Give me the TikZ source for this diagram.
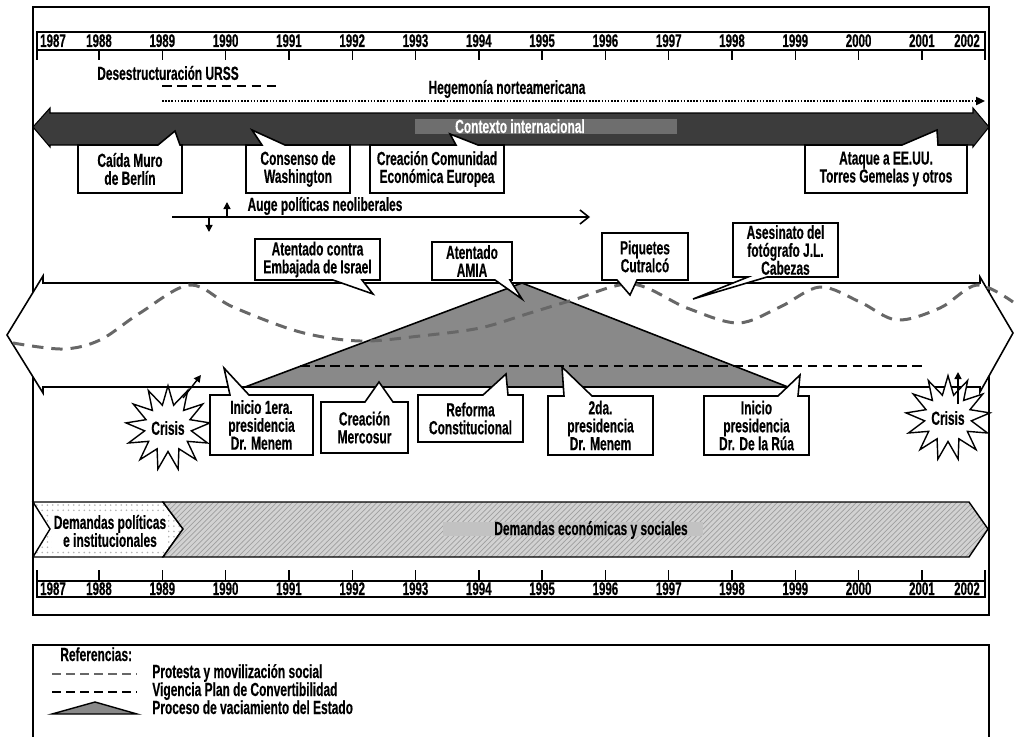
\documentclass[tikz,border=0pt]{standalone}
\usepackage{fontspec}
\setmainfont{Liberation Sans}[FakeStretch=0.63, BoldFeatures={FakeBold=0.4}]
\usetikzlibrary{shapes.geometric,patterns,arrows.meta}
\definecolor{darkarr}{HTML}{3C3C3C}
\definecolor{lblgray}{HTML}{6E6E6E}
\definecolor{trifill}{HTML}{898989}
\definecolor{wavegray}{HTML}{676767}
\definecolor{dembox}{HTML}{C2C2C2}
\definecolor{hatchbg}{HTML}{D2D2D2}
\tikzset{
  cbox/.style={draw=black, fill=white, line width=0.9pt, line join=miter},
  ctext/.style={align=center, inner sep=0pt},
  yearlbl/.style={anchor=base, inner sep=0pt, font=\fontsize{10.4}{10}\selectfont\bfseries},
  axisline/.style={line width=0.8pt},
  frameline/.style={line width=1pt},
  wavel/.style={draw=wavegray, line width=1.7pt, dash pattern=on 6.5pt off 4.5pt},
  convl/.style={draw=black, line width=1.7pt, dash pattern=on 5.5pt off 3pt},
  urssl/.style={draw=black, line width=1.7pt, dash pattern=on 5.5pt off 3pt},
  hegl/.style={draw=black, line width=1.1pt, dash pattern=on 0.9pt off 0.9pt},
  crisisstar/.style={star, star points=13, star point ratio=1.8, minimum size=1.5cm, inner sep=0pt, draw, fill=white, line width=0.8pt},
  smallarr/.style={line width=0.8pt, -{Triangle[length=4pt,width=4pt]}},
  plain/.style={inner sep=0pt}
}
\newcommand{\callU}[9]{%
  \draw[cbox] (#2,#3) -- (#6,#3) -- (#8) -- (#7,#3) -- (#4,#3) -- (#4,#5) -- (#2,#5) -- cycle;
  \node[ctext] (#1) at ({(#2+#4)/2},{(#3+#5)/2}) {#9};}
\newcommand{\callD}[9]{%
  \draw[cbox] (#2,#3) -- (#4,#3) -- (#4,#5) -- (#7,#5) -- (#8) -- (#6,#5) -- (#2,#5) -- cycle;
  \node[ctext] (#1) at ({(#2+#4)/2},{(#3+#5)/2}) {#9};}
\begin{document}
\begin{tikzpicture}[x=0.02cm,y=-0.02cm,font=\fontsize{10.8}{10.2}\selectfont\bfseries]
\useasboundingbox (0,0) rectangle (1018,737);
\fill[white] (0,0) rectangle (1018,737);
% main frame
\draw[frameline] (33,7) rectangle (989,615);
% top axis
\draw[axisline] (37,60) -- (37,32) -- (985,32) -- (985,60);
\draw[axisline] (37,50) -- (985,50);
\foreach \yr in {1988,...,2001} {
  \draw[axisline] ({99+(\yr-1988)*63.3},50) -- ++(0,10);
  \node[yearlbl] (top\yr) at ({99+(\yr-1988)*63.3},47) {\yr};
}
\node[yearlbl] (top1987) at (53,47) {1987};
\node[yearlbl] (top2002) at (967,47) {2002};
% bottom axis
\draw[axisline] (37,570) -- (37,597) -- (985,597) -- (985,570);
\draw[axisline] (37,581) -- (985,581);
\foreach \yr in {1988,...,2001} {
  \draw[axisline] ({99+(\yr-1988)*63.3},581) -- ++(0,-11);
  \node[yearlbl] (bot\yr) at ({99+(\yr-1988)*63.3},595) {\yr};
}
\node[yearlbl] (bot1987) at (53,595) {1987};
\node[yearlbl] (bot2002) at (967,595) {2002};
% URSS and hegemonia
\node[plain] (urss) at (168,73) {Desestructuración URSS};
\coordinate (urssA) at (162,86);
\coordinate (urssB) at (280,86);
\draw[urssl] (urssA) -- (urssB);
\node[plain] (hege) at (507,89) {Hegemonía norteamericana};
\coordinate (hegA) at (162,101);
\coordinate (hegB) at (985,101);
\draw[hegl, -{Triangle[length=5pt,width=4.5pt]}] (hegA) -- (hegB);
% dark arrow
\draw[fill=darkarr, line width=0.6pt] (33,127) -- (50,108) -- (50,113) -- (973,113) -- (973,108) -- (989,127) -- (973,147) -- (973,145) -- (50,145) -- (50,147) -- cycle;
\fill[lblgray] (415,119) rectangle (677,134);
\node[plain, text=white, anchor=base] (ctx) at (520,133) {Contexto internacional};
% callouts on dark arrow
\callU{caida}{78}{145}{182}{193}{158}{180}{175,131}{Caída Muro\\de Berlín}
\callU{consenso}{246}{145}{350}{193}{262}{285}{252,130}{Consenso de\\Washington}
\callU{comunidad}{370}{145}{504}{193}{456}{478}{450,134}{Creación Comunidad\\Económica Europea}
\callU{ataque}{805}{145}{967}{193}{902}{938}{937,130}{Ataque a EE.UU.\\Torres Gemelas y otros}
% auge
\node[plain] (auge) at (325,206) {Auge políticas neoliberales};
\coordinate (augeA) at (172,217);
\coordinate (augeB) at (590,217);
\draw[line width=0.9pt, -{Straight Barb[length=5pt,width=8pt]}] (augeA) -- (augeB);
\coordinate (upA) at (227,217);
\coordinate (upB) at (227,202);
\draw[smallarr] (upA) -- (upB);
\coordinate (dnA) at (209,217);
\coordinate (dnB) at (209,232);
\draw[smallarr] (dnA) -- (dnB);
% middle white arrow
\draw[fill=white, line width=0.9pt] (43,283) -- (980,283) -- (980,277) -- (1013,333) -- (980,392) -- (980,387) -- (43,387) -- (43,393) -- (7,335) -- (43,276) -- cycle;
% state emptying triangle
\draw[fill=trifill, line width=0.9pt] (245,387) -- (522,283) -- (788,387) -- cycle;
% convertibilidad
\coordinate (convA) at (300,366);
\coordinate (convB) at (927,366);
\draw[convl] (convA) -- (convB);
% protest wave
\draw[wavel] plot[smooth, tension=0.55] coordinates {(13,343) (63,349) (100,340) (140,313) (190,285) (233,307) (300,332) (360,341) (420,336) (480,328) (530,313) (573,300) (632,284) (687,308) (738,323) (780,307) (820,287) (860,302) (897,320) (940,308) (977,285) (1013,302)};
% callouts above middle arrow
\callD{embajada}{255}{239}{380}{280}{333}{362}{373,294}{Atentado contra\\Embajada de Israel}
\callD{amia}{432}{242}{512}{280}{495}{510}{522,299}{Atentado\\AMIA}
\callD{piquetes}{602}{233}{688}{280}{617}{637}{630,295}{Piquetes\\Cutralcó}
\callD{cabezas}{733}{223}{838}{277}{748}{767}{693,299}{Asesinato del\\fotógrafo J.L.\\Cabezas}
% crisis stars
\node[crisisstar] (crisisL) at (168,428) {Crisis};
\coordinate (crisisLa) at (183,398);
\coordinate (crisisLb) at (201,375);
\draw[smallarr] (crisisLa) -- (crisisLb);
\node[crisisstar] (crisisR) at (948,418) {Crisis};
\coordinate (crisisRa) at (958,404);
\coordinate (crisisRb) at (958,372);
\draw[smallarr] (crisisRa) -- (crisisRb);
% callouts below middle arrow
\callU{menemA}{210}{395}{313}{455}{230}{249}{224,368}{Inicio 1era.\\presidencia\\Dr. Menem}
\callU{mercosur}{321}{402}{408}{453}{365}{393}{379,382}{Creación\\Mercosur}
\callU{reforma}{418}{395}{523}{442}{483}{508}{506,374}{Reforma\\Constitucional}
\callU{menemB}{548}{396}{653}{455}{564}{592}{562,367}{2da.\\presidencia\\Dr. Menem}
\callU{delarua}{704}{396}{809}{455}{778}{798}{800,375}{Inicio\\presidencia\\Dr. De la Rúa}
% demandas band
\draw[line width=0.8pt, pattern=dots, pattern color=gray!60] (33,502) -- (163,502) -- (183,529) -- (163,557) -- (33,557) -- (50,529) -- cycle;
\draw[line width=0.8pt, preaction={fill=hatchbg}, pattern=north east lines, pattern color=gray!75] (163,502) -- (969,502) -- (988,529) -- (969,557) -- (163,557) -- (183,529) -- cycle;
\node[fill=white, inner sep=1pt, align=center] (dempol) at (110,531) {Demandas políticas\\e institucionales};
\fill[dembox] (443,522) rectangle (703,536);
\node[plain, anchor=base] (demeco) at (591,535) {Demandas económicas y sociales};
% legend
\draw[frameline] (33,737) -- (33,645) -- (989,645) -- (989,737);
\node[plain, anchor=base west] (refs) at (60,661) {Referencias:};
\coordinate (lgAa) at (52,674);
\coordinate (lgAb) at (137,674);
\draw[draw=wavegray, line width=1.4pt, dash pattern=on 5pt off 3pt] (lgAa) -- (lgAb);
\node[plain, anchor=base west] (lgA) at (152,678) {Protesta y movilización social};
\coordinate (lgBa) at (52,692);
\coordinate (lgBb) at (137,692);
\draw[draw=black, line width=1.4pt, dash pattern=on 5pt off 3pt] (lgBa) -- (lgBb);
\node[plain, anchor=base west] (lgB) at (152,696) {Vigencia Plan de Convertibilidad};
\draw[line width=0.8pt, fill=trifill] (52,714) -- (95,702) -- (137,714) -- cycle;
\node[plain, anchor=base west] (lgC) at (152,714) {Proceso de vaciamiento del Estado};
\end{tikzpicture}
\end{document}
